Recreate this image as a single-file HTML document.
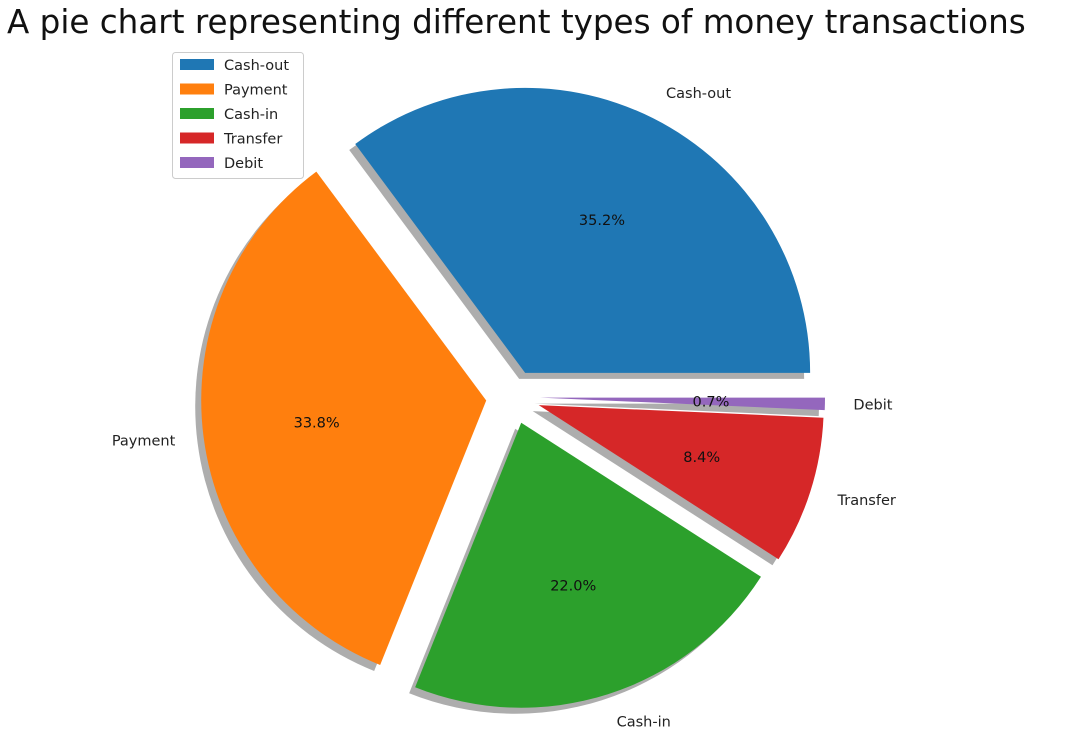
<!DOCTYPE html>
<html><head><meta charset="utf-8"><style>
body{margin:0;background:#fff;}
svg{display:block;font-family:"DejaVu Sans","Liberation Sans",sans-serif;}
</style></head><body>
<svg id="chart" width="1088" height="745">
<text x="7" y="33" font-size="32.6" fill="#111">A pie chart representing different types of money transactions</text>
<g id="shadows"></g>
<g id="wedges"></g>
<g id="labels"></g>
<g id="legend"></g>
</svg>
<script>
const categories = ["Cash-out","Payment","Cash-in","Transfer","Debit"];
const values = [35.2, 33.8, 22.0, 8.4, 0.7];
const pctLabels = ["35.2%","33.8%","22.0%","8.4%","0.7%"];
const colors = ["#1f77b4","#ff7f0e","#2ca02c","#d62728","#9467bd"];
const NS="http://www.w3.org/2000/svg";
const cx=513, cy=397, R=285, EX=27;
function mk(t,a,p){const e=document.createElementNS(NS,t);for(const k in a)e.setAttribute(k,a[k]);p.appendChild(e);return e;}
const total=values.reduce((a,b)=>a+b,0);
let start=0;
const sh=document.getElementById('shadows'),wg=document.getElementById('wedges'),lb=document.getElementById('labels');
values.forEach((v,i)=>{
  const sweep=v/total*360, a0=start, a1=start+sweep, mid=(a0+a1)/2*Math.PI/180;
  start=a1;
  const vx=cx+EX*Math.cos(mid), vy=cy-EX*Math.sin(mid);
  const p=(a)=>[vx+R*Math.cos(a*Math.PI/180), vy-R*Math.sin(a*Math.PI/180)];
  const [x0,y0]=p(a0),[x1,y1]=p(a1);
  const large=sweep>180?1:0;
  const d=`M${vx},${vy} L${x0},${y0} A${R},${R} 0 ${large} 0 ${x1},${y1} Z`;
  const s=mk('path',{d:d,fill:'#777',opacity:'0.6',transform:'translate(-6,6)'},sh);
  
  
  const w=mk('path',{d:d,fill:colors[i]},wg);
  
  
  const lx=vx+1.1*R*Math.cos(mid), ly=vy-1.1*R*Math.sin(mid);
  const t=mk('text',{x:lx,y:ly+5,'font-size':'14.5',fill:'#222','text-anchor':Math.cos(mid)>=0?'start':'end'},lb);
  t.textContent=categories[i];
  
  
  const px=vx+0.6*R*Math.cos(mid), py=vy-0.6*R*Math.sin(mid);
  const q=mk('text',{x:px,y:py+5,'font-size':'14.5',fill:'#111','text-anchor':'middle'},lb);
  q.textContent=pctLabels[i];
  
  
});
const lg=document.getElementById('legend');
const box=mk('rect',{x:172.5,y:52.5,width:131,height:126,rx:3,fill:'#fff',stroke:'#ccc'},lg);


categories.forEach((c,i)=>{
  const y=59+i*24.5;
  const r=mk('rect',{x:180,y:y,width:34,height:11,fill:colors[i]},lg);
  
  
  const t=mk('text',{x:224,y:y+11,'font-size':'14.5',fill:'#222'},lg);
  t.textContent=c;
  
  
});
</script>
</body></html>
